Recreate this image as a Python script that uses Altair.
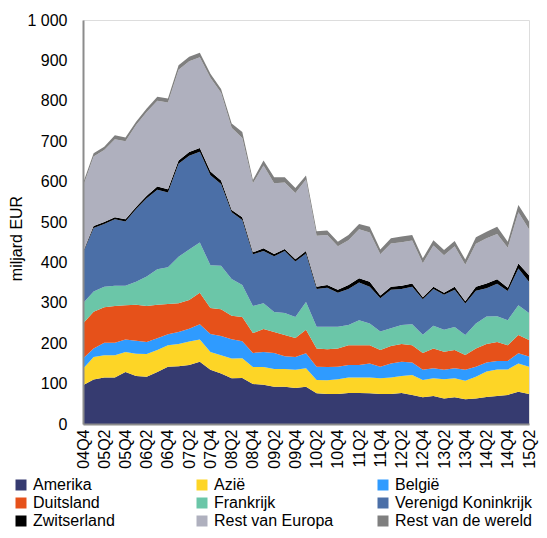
import altair as alt
import pandas as pd

quarters = ["04Q4",
            "05Q1", "05Q2", "05Q3", "05Q4",
            "06Q1", "06Q2", "06Q3", "06Q4",
            "07Q1", "07Q2", "07Q3", "07Q4",
            "08Q1", "08Q2", "08Q3", "08Q4",
            "09Q1", "09Q2", "09Q3", "09Q4",
            "10Q1", "10Q2", "10Q3", "10Q4",
            "11Q1", "11Q2", "11Q3", "11Q4",
            "12Q1", "12Q2", "12Q3", "12Q4",
            "13Q1", "13Q2", "13Q3", "13Q4",
            "14Q1", "14Q2", "14Q3", "14Q4",
            "15Q1", "15Q2"]

tick_labels = ["04Q4", "05Q2", "05Q4", "06Q2", "06Q4", "07Q2", "07Q4", "08Q2",
               "08Q4", "09Q2", "09Q4", "10Q2", "10Q4", "11Q2", "11Q4", "12Q2",
               "12Q4", "13Q2", "13Q4", "14Q2", "14Q4", "15Q2"]

series = ["Amerika", "Azië", "België", "Duitsland", "Frankrijk",
          "Verenigd Koninkrijk", "Zwitserland", "Rest van Europa", "Rest van de wereld"]

colors = ["#363B70", "#FDD526", "#2F9BFF", "#E6511A", "#6BC6A8",
          "#4B6FA7", "#000000", "#AFB0BE", "#7F7F7F"]

amerika = [96, 110, 115, 115, 129, 119, 117, 129, 142, 143, 146, 154, 134, 125, 113, 114,
           99, 97, 92, 92, 89, 92, 76, 74, 74, 77, 77, 76, 74, 74, 77, 72, 66, 69, 63,
           66, 61, 63, 67, 69, 72, 80, 74]
azie = [41, 56, 55, 55, 49, 55, 56, 54, 53, 55, 58, 55, 44, 45, 49, 49, 42, 44, 44, 44,
        45, 46, 33, 34, 37, 38, 38, 39, 39, 41, 42, 49, 43, 44, 48, 47, 46, 54, 63, 66,
        63, 70, 68]
belgie = [25, 21, 31, 31, 31, 32, 30, 29, 27, 30, 32, 38, 45, 48, 48, 42, 35, 37, 40, 32,
          32, 37, 33, 33, 31, 31, 31, 35, 29, 35, 35, 31, 25, 25, 23, 25, 27, 25, 22, 21,
          21, 25, 25]
duitsland = [87, 91, 88, 91, 85, 89, 89, 83, 75, 71, 71, 78, 64, 66, 58, 60, 49, 57, 52,
             52, 47, 58, 45, 44, 45, 49, 49, 45, 41, 43, 44, 43, 42, 49, 45, 45, 37, 45,
             46, 47, 39, 45, 41]
frankrijk = [50, 50, 51, 50, 48, 57, 73, 88, 91, 115, 125, 124, 106, 108, 91, 79, 67, 64,
             49, 55, 52, 69, 54, 56, 54, 50, 62, 54, 46, 44, 47, 52, 45, 56, 54, 57, 49,
             62, 68, 64, 62, 74, 67]
vk = [124, 157, 155, 165, 159, 180, 194, 197, 185, 230, 232, 225, 223, 202, 165, 161, 128,
      129, 138, 153, 137, 120, 93, 96, 84, 89, 93, 91, 82, 95, 89, 93, 88, 91, 87, 92, 78,
      81, 70, 80, 72, 91, 77]
zwitserland = [3, 5, 5, 5, 6, 5, 6, 8, 8, 8, 9, 9, 9, 9, 6, 7, 5, 7, 6, 5, 6, 6, 6, 7, 7,
               10, 11, 12, 7, 8, 8, 8, 5, 6, 5, 8, 6, 10, 12, 11, 8, 12, 16]
rest_europa = [162, 172, 178, 193, 193, 203, 207, 212, 215, 225, 225, 225, 232, 217, 203,
               196, 171, 205, 175, 165, 164, 177, 126, 124, 108, 111, 121, 122, 102, 107,
               108, 106, 84, 102, 93, 100, 90, 106, 112, 112, 99, 127, 114]
rest_wereld = [8, 8, 8, 10, 9, 8, 9, 10, 10, 11, 11, 11, 10, 9, 11, 15, 8, 12, 15, 13, 12,
               10, 11, 11, 11, 13, 13, 14, 12, 13, 14, 14, 12, 13, 13, 13, 13, 16, 16, 18,
               15, 18, 19]

values = [amerika, azie, belgie, duitsland, frankrijk, vk, zwitserland, rest_europa, rest_wereld]

rows = []
for k, (name, vals) in enumerate(zip(series, values)):
    for q, v in zip(quarters, vals):
        rows.append({"kwartaal": q, "reeks": name, "volgorde": k, "waarde": v})
df = pd.DataFrame(rows)

FONT = "Liberation Sans"

chart = alt.Chart(df).mark_area(interpolate="linear").encode(
    x=alt.X("kwartaal:O",
            scale=alt.Scale(type="point", domain=quarters, padding=0),
            axis=alt.Axis(title=None, values=tick_labels, labelAngle=270,
                          labelFontSize=16, labelFont=FONT, labelColor="#000000",
                          labelPadding=5, ticks=False, domainColor="#8C8C8C",
                          domainWidth=2, grid=False, labelOverlap=False, zindex=1)),
    y=alt.Y("waarde:Q", stack="zero",
            scale=alt.Scale(domain=[0, 1000], nice=False),
            axis=alt.Axis(title="miljard EUR", values=list(range(0, 1001, 100)),
                          labelExpr="replace(format(datum.value, ','), ',', ' ')",
                          labelFontSize=16, labelFont=FONT, labelColor="#000000",
                          labelPadding=16, ticks=False, domainColor="#8C8C8C",
                          domainWidth=2, grid=False, zindex=1,
                          titleFontSize=16, titleFont=FONT, titleFontWeight="normal",
                          titleColor="#000000", titlePadding=2, titleY=218)),
    color=alt.Color("reeks:N",
                    scale=alt.Scale(domain=series, range=colors),
                    sort=series,
                    legend=alt.Legend(title=None, orient="none", legendX=-70, legendY=457,
                                      direction="horizontal", columns=3, gridAlign="all",
                                      columnPadding=24, rowPadding=2,
                                      symbolType="square", symbolSize=121,
                                      symbolStrokeWidth=0, labelFontSize=16,
                                      labelFont=FONT, labelColor="#000000",
                                      labelOffset=4, labelLimit=300)),
    order=alt.Order("volgorde:Q", sort="ascending"),
).properties(
    width=446,
    height=404,
    autosize=alt.AutoSizeParams(type="none"),
    padding={"left": 75, "top": 12, "right": 10, "bottom": 106},
).configure_view(stroke=None).configure(background="#FFFFFF")

chart.save("out.html", embed_options={"renderer": "svg", "actions": False})
